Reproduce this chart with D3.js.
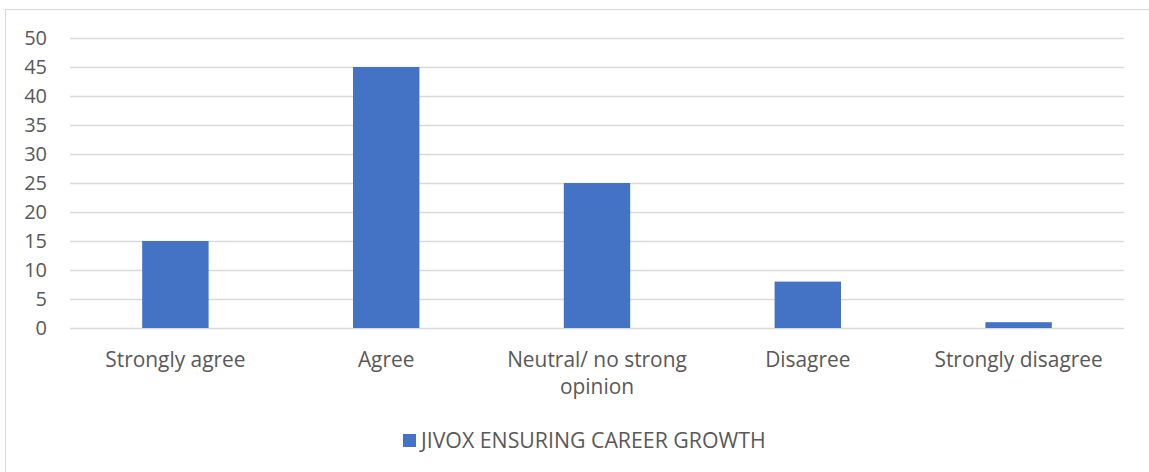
<!DOCTYPE html>
<html><head><meta charset="utf-8">
<script src="https://cdn.jsdelivr.net/npm/d3@7"></script>
<style>body{margin:0;background:#fff;}svg{display:block;}</style>
</head><body>
<svg id="c" width="1149" height="472"></svg>
<script>
const categories = ["Strongly agree", "Agree", "Neutral/ no strong opinion", "Disagree", "Strongly disagree"];
const categoryLines = [["Strongly agree"], ["Agree"], ["Neutral/ no strong", "opinion"], ["Disagree"], ["Strongly disagree"]];
const values = [15, 45, 25, 8, 1];
const yTicks = [0, 5, 10, 15, 20, 25, 30, 35, 40, 45, 50];
const seriesName = "JIVOX ENSURING CAREER GROWTH";

(function () {
const svg = d3.select("#c");
const font = "'Open Sans', sans-serif";
const textColor = "#595959";
const barColor = "#4472C4";

svg.append("rect").attr("x", 5.5).attr("y", 9.5).attr("width", 1149).attr("height", 480)
  .attr("fill", "#fff").attr("stroke", "#d9d9d9").attr("stroke-width", 1);

const pL = 70, pR = 1124, pT = 38, pB = 328;
const x = d3.scaleBand().domain(categories).range([pL, pR]).paddingInner(0.685).paddingOuter(0.3425);
const y = d3.scaleLinear().domain([0, 50]).range([pB, pT]);

const gy = svg.append("g");
gy.selectAll("line").data(yTicks).join("line")
  .attr("x1", pL).attr("x2", pR)
  .attr("y1", d => Math.round(y(d)) + 0.5).attr("y2", d => Math.round(y(d)) + 0.5)
  .attr("stroke", "#d9d9d9").attr("stroke-width", 1.3);
gy.selectAll("text").data(yTicks).join("text")
  .attr("x", 47).attr("y", d => y(d)).attr("dy", "0.35em")
  .attr("text-anchor", "end").attr("font-family", font).attr("font-size", 20)
  .attr("fill", textColor).text(d => d);

svg.append("g").selectAll("rect").data(values).join("rect")
  .attr("x", (d, i) => x(categories[i])).attr("width", x.bandwidth())
  .attr("y", d => y(d)).attr("height", d => y(0) - y(d))
  .attr("fill", barColor);

const gx = svg.append("g");
categories.forEach((c, i) => {
  const t = gx.append("text").attr("x", x(c) + x.bandwidth() / 2).attr("y", 367)
    .attr("text-anchor", "middle").attr("font-family", font).attr("font-size", 20.9).attr("fill", textColor);
  categoryLines[i].forEach((ln, j) => {
    t.append("tspan").attr("x", x(c) + x.bandwidth() / 2).attr("dy", j === 0 ? 0 : 27).text(ln);
  });
});

const lg = svg.append("g");
lg.append("rect").attr("x", 403).attr("y", 434).attr("width", 13).attr("height", 13).attr("fill", barColor);
lg.append("text").attr("x", 421).attr("y", 441).attr("dy", "0.35em")
  .attr("font-family", font).attr("font-size", 21.3).attr("fill", textColor).text(seriesName);
})();
</script>
</body></html>
